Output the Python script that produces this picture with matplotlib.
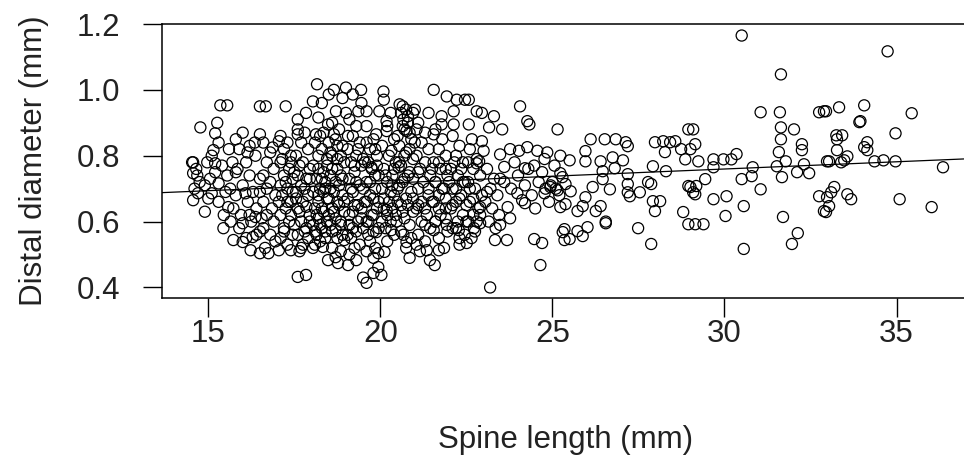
import matplotlib
matplotlib.use("Agg")
import matplotlib.pyplot as plt
import numpy as np

# (spine length mm, distal diameter mm), grouped by region
left_pts = [
    (15.35, 0.953), (15.55, 0.953), (16.5, 0.95), (14.77, 0.886), (15.26, 0.90), (15.2, 0.868),
    (16.0, 0.87), (15.8, 0.85), (16.5, 0.865), (15.15, 0.817), (16.14, 0.81), (14.56, 0.78),
    (14.97, 0.78), (15.7, 0.78), (16.37, 0.80), (14.53, 0.78), (15.2, 0.777), (15.8, 0.75),
    (14.56, 0.747), (14.68, 0.74), (15.3, 0.716), (15.64, 0.70), (16.08, 0.686), (14.7, 0.686),
    (15.1, 0.686), (14.56, 0.665), (15.58, 0.644), (15.73, 0.64), (14.9, 0.63), (16.0, 0.595),
    (16.37, 0.614), (15.44, 0.58), (15.73, 0.544), (16.0, 0.538), (16.23, 0.513), (16.5, 0.504),
    (16.5, 0.57), (16.29, 0.553),
    (15.9, 0.82), (16.1, 0.78), (15.85, 0.76), (16.2, 0.74), (16.0, 0.71), (16.3, 0.69),
    (15.8, 0.68), (16.15, 0.66), (16.4, 0.64), (15.95, 0.62), (16.25, 0.60), (16.4, 0.56),
    (16.1, 0.55), (16.35, 0.84), (16.2, 0.83),
    (14.65, 0.76), (14.75, 0.72), (14.6, 0.70), (14.9, 0.71), (15.05, 0.73), (15.2, 0.75),
    (15.4, 0.77), (15.55, 0.74), (15.0, 0.67), (15.3, 0.66), (15.5, 0.69), (15.45, 0.62),
    (15.65, 0.60), (15.9, 0.58), (16.2, 0.62), (15.3, 0.84), (15.6, 0.82), (15.1, 0.80),
]

upper_pts = [
    (18.16, 1.017), (18.65, 1.0), (19.0, 1.007), (19.44, 1.0), (18.5, 0.986), (19.2, 0.986),
    (18.04, 0.965), (17.25, 0.95), (16.67, 0.95), (17.84, 0.93), (18.71, 0.935), (19.0, 0.93),
    (18.2, 0.916), (19.36, 0.935), (18.48, 0.895), (17.6, 0.88), (17.6, 0.865), (18.65, 0.865),
    (19.06, 0.86), (18.13, 0.865), (17.05, 0.844), (16.87, 0.825),
    (20.09, 0.995), (21.55, 1.0), (21.93, 0.98), (22.22, 0.97), (22.46, 0.97), (19.6, 0.935),
    (19.97, 0.935), (20.56, 0.956), (21.0, 0.94), (21.4, 0.93), (21.78, 0.92), (22.13, 0.935),
    (20.18, 0.905), (19.88, 0.865), (20.18, 0.875), (20.67, 0.91), (20.76, 0.875), (21.78, 0.895),
    (22.13, 0.895), (20.32, 0.815), (21.55, 0.865),
    (22.57, 0.97), (22.8, 0.935), (22.95, 0.93), (23.3, 0.92), (23.16, 0.886), (23.54, 0.88),
    (24.06, 0.95), (24.27, 0.905), (24.33, 0.895), (25.15, 0.88), (22.57, 0.895), (22.66, 0.85),
    (22.95, 0.844), (23.0, 0.815), (23.48, 0.804), (23.77, 0.82), (24.03, 0.815), (24.27, 0.826),
    (24.56, 0.815), (24.85, 0.81), (25.23, 0.80), (24.77, 0.79), (22.87, 0.783),
]

lower_pts = [
    (22.8, 0.777), (23.6, 0.766), (24.2, 0.762), (24.47, 0.77), (25.06, 0.77), (25.23, 0.747),
    (23.48, 0.73), (23.98, 0.686), (24.12, 0.665), (24.2, 0.656), (24.77, 0.686), (24.94, 0.705),
    (25.15, 0.695), (25.23, 0.644), (23.7, 0.644), (23.77, 0.61), (23.48, 0.59), (22.9, 0.644),
    (22.9, 0.595), (22.72, 0.58), (22.51, 0.535), (23.33, 0.544), (23.68, 0.544), (24.47, 0.547),
    (24.7, 0.535), (25.3, 0.568), (25.35, 0.544), (24.65, 0.468), (23.19, 0.40),
    (19.8, 0.49), (19.94, 0.504), (20.12, 0.508), (20.85, 0.49), (21.58, 0.468), (21.44, 0.483),
    (19.8, 0.444), (20.03, 0.438), (19.6, 0.414), (19.94, 0.462), (21.35, 0.513), (21.05, 0.53),
    (21.7, 0.513), (22.3, 0.55), (22.28, 0.574), (21.93, 0.59), (21.55, 0.574), (20.76, 0.538),
    (20.67, 0.56), (20.32, 0.574), (19.88, 0.568), (19.65, 0.56), (19.74, 0.765), (20.53, 0.765),
    (20.18, 0.635), (20.47, 0.60), (19.8, 0.62),
    (17.6, 0.432), (17.84, 0.438), (18.48, 0.483), (18.77, 0.474), (19.06, 0.468), (19.3, 0.483),
    (19.5, 0.43), (19.1, 0.5), (16.75, 0.504), (17.05, 0.513), (17.4, 0.513), (17.7, 0.52),
    (18.04, 0.52), (18.33, 0.523), (18.7, 0.492), (18.95, 0.544),
]

core_pts = [
    (16.6, 0.84), (16.8, 0.81), (16.7, 0.78), (16.9, 0.76), (16.6, 0.74), (16.8, 0.72), (16.7, 0.70),
    (16.95, 0.68), (16.6, 0.66), (16.85, 0.64), (16.7, 0.62), (16.9, 0.60), (16.6, 0.58), (16.8, 0.56),
    (16.95, 0.54), (16.65, 0.52), (16.5, 0.73), (16.5, 0.69), (16.55, 0.61),
    (17.1, 0.86), (17.3, 0.84), (17.2, 0.82), (17.4, 0.80), (17.1, 0.78), (17.35, 0.76), (17.2, 0.74),
    (17.45, 0.73), (17.1, 0.71), (17.3, 0.70), (17.15, 0.68), (17.4, 0.66), (17.25, 0.64), (17.1, 0.62),
    (17.35, 0.60), (17.2, 0.58), (17.45, 0.56), (17.1, 0.55), (17.3, 0.53), (17.15, 0.79), (17.45, 0.69),
    (17.05, 0.66),
    (17.6, 0.91), (17.8, 0.87), (17.7, 0.84), (17.9, 0.82), (17.55, 0.80), (17.75, 0.78), (17.95, 0.76),
    (17.6, 0.74), (17.85, 0.73), (17.7, 0.71), (17.55, 0.69), (17.9, 0.68), (17.75, 0.66), (17.6, 0.64),
    (17.95, 0.62), (17.7, 0.60), (17.85, 0.58), (17.6, 0.56), (17.9, 0.55), (17.75, 0.53), (17.65, 0.51),
    (18.1, 0.84), (18.3, 0.82), (18.2, 0.80), (18.45, 0.79), (18.05, 0.77), (18.35, 0.75), (18.15, 0.73),
    (18.4, 0.72), (18.25, 0.70), (18.05, 0.69), (18.45, 0.67), (18.2, 0.66), (18.1, 0.64), (18.35, 0.63),
    (18.2, 0.61), (18.45, 0.60), (18.05, 0.59), (18.3, 0.58), (18.15, 0.56), (18.4, 0.55), (18.25, 0.54),
    (18.1, 0.53), (18.35, 0.87), (18.3, 0.96), (18.4, 0.70),
    (18.6, 0.90), (18.8, 0.88), (18.7, 0.85), (18.9, 0.83), (18.55, 0.81), (18.75, 0.79), (18.95, 0.78),
    (18.6, 0.76), (18.85, 0.74), (18.7, 0.72), (18.55, 0.70), (18.9, 0.68), (18.75, 0.66), (18.6, 0.64),
    (18.95, 0.63), (18.7, 0.61), (18.85, 0.59), (18.6, 0.57), (18.9, 0.56), (18.75, 0.55), (18.6, 0.52),
    (18.85, 0.51), (18.9, 0.975),
    (19.1, 0.91), (19.3, 0.89), (19.2, 0.86), (19.4, 0.84), (19.05, 0.82), (19.3, 0.80), (19.15, 0.78),
    (19.45, 0.77), (19.25, 0.75), (19.1, 0.73), (19.4, 0.71), (19.2, 0.69), (19.05, 0.67), (19.35, 0.65),
    (19.2, 0.63), (19.45, 0.61), (19.1, 0.59), (19.3, 0.57), (19.15, 0.55), (19.4, 0.53), (19.25, 0.52),
    (19.45, 0.96),
    (19.6, 0.89), (19.8, 0.85), (19.7, 0.82), (19.9, 0.80), (19.55, 0.78), (19.75, 0.76), (19.95, 0.74),
    (19.6, 0.72), (19.85, 0.70), (19.7, 0.68), (19.55, 0.66), (19.9, 0.64), (19.75, 0.62), (19.6, 0.60),
    (19.95, 0.58), (19.7, 0.54), (19.85, 0.52), (19.6, 0.51),
    (20.1, 0.97), (20.3, 0.93), (20.2, 0.89), (20.4, 0.85), (20.05, 0.83), (20.25, 0.80), (20.45, 0.78),
    (20.1, 0.76), (20.35, 0.74), (20.2, 0.72), (20.05, 0.70), (20.4, 0.68), (20.25, 0.66), (20.1, 0.64),
    (20.45, 0.62), (20.3, 0.60), (20.15, 0.58), (20.4, 0.56), (20.2, 0.54), (20.35, 0.71),
    (20.6, 0.93), (20.8, 0.90), (20.7, 0.88), (20.9, 0.85), (20.55, 0.83), (20.75, 0.81), (20.95, 0.79),
    (20.6, 0.77), (20.85, 0.75), (20.7, 0.73), (20.55, 0.71), (20.9, 0.69), (20.75, 0.67), (20.6, 0.65),
    (20.95, 0.63), (20.7, 0.61), (20.85, 0.59), (20.6, 0.57), (20.9, 0.55), (20.75, 0.52), (20.65, 0.95),
    (20.8, 0.92),
    (21.1, 0.90), (21.3, 0.87), (21.2, 0.84), (21.4, 0.82), (21.05, 0.80), (21.3, 0.78), (21.15, 0.76),
    (21.45, 0.74), (21.25, 0.72), (21.1, 0.70), (21.4, 0.68), (21.2, 0.66), (21.05, 0.64), (21.35, 0.62),
    (21.2, 0.60), (21.45, 0.58), (21.1, 0.56), (21.3, 0.54), (21.15, 0.51),
    (21.6, 0.88), (21.8, 0.85), (21.7, 0.82), (21.9, 0.80), (21.55, 0.78), (21.75, 0.76), (21.95, 0.74),
    (21.6, 0.72), (21.85, 0.70), (21.7, 0.68), (21.55, 0.66), (21.9, 0.64), (21.75, 0.62), (21.6, 0.60),
    (21.95, 0.57), (21.7, 0.55), (21.85, 0.52),
    (22.1, 0.86), (22.3, 0.83), (22.2, 0.80), (22.4, 0.78), (22.05, 0.76), (22.25, 0.74), (22.45, 0.72),
    (22.1, 0.70), (22.35, 0.68), (22.2, 0.66), (22.05, 0.64), (22.4, 0.62), (22.25, 0.60), (22.1, 0.58),
    (22.45, 0.56), (22.3, 0.53),
    (22.6, 0.82), (22.8, 0.79), (22.7, 0.76), (22.9, 0.74), (22.55, 0.72), (22.75, 0.70), (22.95, 0.68),
    (22.6, 0.66), (22.85, 0.64), (22.7, 0.62), (22.55, 0.60), (22.9, 0.62), (22.75, 0.57), (22.65, 0.55),
    (23.1, 0.76), (23.3, 0.73), (23.2, 0.70), (23.4, 0.68), (23.05, 0.66), (23.25, 0.64), (23.45, 0.62),
    (23.15, 0.60), (23.35, 0.58), (23.1, 0.69),
    (23.6, 0.72), (23.8, 0.70), (24.0, 0.74), (24.2, 0.71), (24.4, 0.68), (24.6, 0.72), (24.8, 0.70),
    (24.9, 0.66), (24.5, 0.64), (24.3, 0.76), (23.9, 0.78), (24.7, 0.75), (25.0, 0.72), (25.1, 0.70),
    (25.2, 0.68), (24.95, 0.71),
]

core_dense_pts = [
    (17.2, 0.57), (17.5, 0.59), (17.8, 0.57), (17.4, 0.62), (17.65, 0.63), (17.95, 0.60), (17.3, 0.66),
    (17.55, 0.67), (17.85, 0.645), (17.25, 0.72), (17.5, 0.75), (17.8, 0.70), (17.4, 0.78), (17.65, 0.77),
    (17.95, 0.73),
    (18.1, 0.57), (18.25, 0.59), (18.4, 0.57), (18.55, 0.59), (18.7, 0.575), (18.85, 0.60), (18.15, 0.62),
    (18.3, 0.64), (18.5, 0.62), (18.65, 0.63), (18.8, 0.65), (18.95, 0.66), (18.2, 0.68), (18.35, 0.69),
    (18.5, 0.67), (18.65, 0.69), (18.8, 0.71), (18.3, 0.73), (18.55, 0.74), (18.75, 0.76), (18.9, 0.73),
    (18.2, 0.76), (18.45, 0.77), (18.6, 0.80), (18.85, 0.80), (18.25, 0.86), (18.5, 0.84), (18.75, 0.83),
    (19.05, 0.56), (19.2, 0.58), (19.35, 0.60), (19.5, 0.58), (19.65, 0.60), (19.8, 0.57), (19.1, 0.62),
    (19.25, 0.65), (19.45, 0.64), (19.6, 0.66), (19.8, 0.67), (19.95, 0.66), (19.15, 0.70), (19.3, 0.72),
    (19.5, 0.70), (19.7, 0.72), (19.85, 0.74), (19.25, 0.77), (19.5, 0.79), (19.65, 0.78), (19.9, 0.77),
    (19.35, 0.82), (19.6, 0.84), (19.85, 0.82),
    (20.05, 0.60), (20.2, 0.62), (20.35, 0.64), (20.5, 0.66), (20.65, 0.63), (20.8, 0.65), (20.95, 0.67),
    (21.1, 0.65), (20.1, 0.67), (20.3, 0.69), (20.5, 0.70), (20.65, 0.72), (20.8, 0.74), (20.95, 0.73),
    (21.1, 0.75), (20.15, 0.74), (20.4, 0.76), (20.55, 0.78), (20.7, 0.80), (20.85, 0.82), (21.0, 0.84),
    (20.5, 0.86), (20.65, 0.89), (20.85, 0.87), (21.05, 0.88), (20.75, 0.94), (20.95, 0.93),
    (21.3, 0.64), (21.5, 0.66), (21.7, 0.64), (21.9, 0.67), (22.1, 0.65), (22.3, 0.67), (22.5, 0.65),
    (22.7, 0.67), (21.4, 0.70), (21.6, 0.72), (21.8, 0.70), (22.0, 0.72), (22.2, 0.70), (22.4, 0.72),
    (22.6, 0.70), (21.5, 0.76), (21.7, 0.78), (21.9, 0.76), (22.15, 0.78), (22.35, 0.76), (22.55, 0.78),
    (21.3, 0.59), (21.6, 0.60), (21.9, 0.61), (22.2, 0.58), (22.5, 0.60), (22.8, 0.60),
]

right_pts = [
    (26.11, 0.85), (26.52, 0.85), (26.84, 0.85), (27.13, 0.841), (27.19, 0.829), (25.96, 0.814),
    (25.50, 0.786), (25.96, 0.783), (26.40, 0.783), (26.75, 0.795), (27.05, 0.786), (26.81, 0.762),
    (26.46, 0.753), (26.46, 0.729), (26.17, 0.705), (26.67, 0.698), (27.19, 0.744), (27.19, 0.714),
    (27.19, 0.689), (27.25, 0.677), (27.54, 0.689), (27.78, 0.72), (27.87, 0.714), (27.92, 0.768),
    (28.30, 0.753), (27.98, 0.841), (28.22, 0.844), (28.27, 0.811), (28.42, 0.841), (28.57, 0.844),
    (28.74, 0.82), (28.95, 0.88), (28.86, 0.789), (29.01, 0.82), (29.15, 0.835), (28.95, 0.708),
    (29.01, 0.705), (29.09, 0.689), (27.92, 0.662), (28.13, 0.662), (27.98, 0.632), (28.80, 0.629),
    (28.95, 0.592), (29.15, 0.592), (27.49, 0.58), (27.87, 0.532), (26.55, 0.595), (26.55, 0.60),
    (26.40, 0.647), (26.26, 0.632), (25.96, 0.674), (25.88, 0.647), (25.73, 0.632), (25.53, 0.692),
    (25.38, 0.653), (25.35, 0.577), (25.73, 0.571), (25.88, 0.556), (26.02, 0.583), (25.50, 0.547),
    (25.29, 0.735), (25.38, 0.714),
    (30.50, 1.165), (31.64, 1.047), (31.05, 0.932), (31.61, 0.932), (32.75, 0.932), (32.89, 0.935),
    (31.64, 0.886), (32.02, 0.88), (31.64, 0.85), (32.25, 0.835), (32.25, 0.817), (31.58, 0.811),
    (29.09, 0.88), (29.24, 0.783), (29.68, 0.789), (29.97, 0.789), (30.20, 0.789), (30.35, 0.805),
    (29.68, 0.765), (30.82, 0.765), (30.79, 0.738), (30.50, 0.729), (31.05, 0.698), (31.52, 0.768),
    (31.78, 0.783), (31.67, 0.735), (32.11, 0.75), (32.46, 0.747), (32.31, 0.774), (32.98, 0.783),
    (29.44, 0.729), (29.18, 0.708), (29.15, 0.683), (29.68, 0.668), (30.06, 0.677), (30.56, 0.647),
    (30.03, 0.617), (29.39, 0.592), (31.70, 0.614), (32.13, 0.565), (31.96, 0.532), (30.56, 0.517),
    (32.75, 0.677), (32.89, 0.632),
    (34.74, 1.117), (33.33, 0.947), (32.95, 0.935), (34.06, 0.953), (35.44, 0.929), (33.92, 0.902),
    (33.95, 0.905), (34.97, 0.868), (33.25, 0.862), (33.42, 0.862), (33.27, 0.85), (34.15, 0.841),
    (34.06, 0.826), (33.27, 0.817), (33.57, 0.798), (33.48, 0.786), (33.04, 0.783), (33.39, 0.78),
    (34.36, 0.783), (34.62, 0.786), (34.97, 0.783), (36.35, 0.765), (33.19, 0.705), (33.10, 0.689),
    (33.57, 0.683), (33.68, 0.668), (32.98, 0.674), (33.04, 0.647), (32.95, 0.629), (35.09, 0.668),
    (36.02, 0.644), (34.15, 0.817),
]

# regression line y = b0 + b1 * x
line_b0 = 0.628
line_b1 = 0.00439

pts = left_pts + upper_pts + lower_pts + core_pts + core_dense_pts + right_pts
spine_length = [p[0] for p in pts]
distal_diameter = [p[1] for p in pts]

plt.rcParams['font.family'] = ['Liberation Sans', 'DejaVu Sans']
fig = plt.figure(figsize=(9.64, 4.59), dpi=100)
ax = fig.add_axes([162 / 964, 1 - 298 / 459, 1.005 - 162 / 964, 274 / 459])

ax.scatter(spine_length, distal_diameter, s=64, facecolors='none', edgecolors='black',
           linewidths=0.9, zorder=3)
ax.axline((0, line_b0), slope=line_b1, color='black', lw=0.9, zorder=2)

ax.set_xlim(13.655, 37.1)
ax.set_ylim(0.368, 1.199)
ax.set_xticks([15, 20, 25, 30, 35])
ax.set_yticks([0.4, 0.6, 0.8, 1.0, 1.2])
ax.set_yticklabels(['0.4', '0.6', '0.8', '1.0', '1.2'])
ax.tick_params(axis='both', labelsize=22.5, length=14, width=1, color='black', labelcolor='#222222')
ax.tick_params(axis='x', pad=1.0)
ax.tick_params(axis='y', pad=16)

for s in ax.spines.values():
    s.set_linewidth(1.1)

ax.set_xlabel('Spine length (mm)', fontsize=22.5, labelpad=55, color='#222222')
ax.set_ylabel('Distal diameter (mm)', fontsize=22.5, labelpad=20, color='#222222')

fig.savefig('out.png', dpi=100)
